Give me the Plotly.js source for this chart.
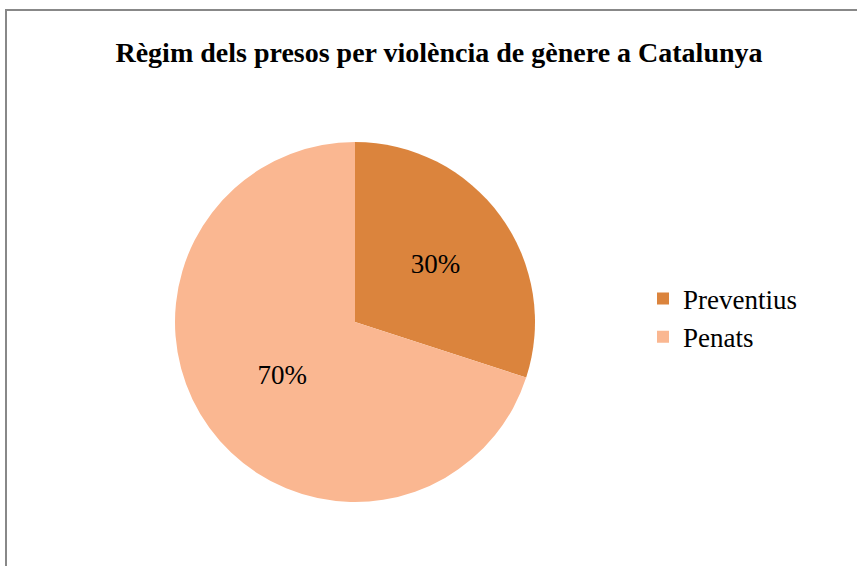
<!DOCTYPE html>
<html>
<head>
<meta charset="utf-8">
<script src="https://cdn.plot.ly/plotly-3.0.1.min.js"></script>
<style>html,body{margin:0;padding:0;background:#fff;}#chart{width:857px;height:566px;}</style>
</head>
<body>
<div id="chart"></div>
<script>
var chartTitle = "Règim dels presos per violència de gènere a Catalunya";
var categories = ["Preventius", "Penats"];
var shares = [30, 70];
var sliceColors = ["#DB843D", "#FAB791"];

var W = 857, H = 566;
var cx = 355, cy = 322, r = 180;

var trace = {
  type: "pie",
  labels: categories,
  values: shares,
  sort: false,
  direction: "clockwise",
  rotation: 0,
  marker: {colors: sliceColors, line: {width: 0}},
  textinfo: "percent",
  texttemplate: "%{percent:.0%}",
  textposition: "inside",
  insidetextorientation: "horizontal",
  textfont: {family: "Liberation Serif", size: 27, color: "#000"},
  hoverinfo: "label+percent",
  domain: {
    x: [(cx - r) / W, (cx + r) / W],
    y: [(H - cy - r) / H, (H - cy + r) / H]
  }
};

var layout = {
  width: W, height: H,
  margin: {l: 0, r: 0, t: 0, b: 0},
  paper_bgcolor: "#fff",
  title: {
    text: chartTitle,
    font: {family: "Liberation Serif", size: 28, color: "#000", weight: "bold"},
    x: 439 / W, xref: "container", xanchor: "center",
    y: (H - 52) / H, yref: "container", yanchor: "middle"
  },
  showlegend: true,
  legend: {
    x: 643 / W, xanchor: "left",
    y: (H - 318) / H, yanchor: "middle",
    font: {family: "Liberation Serif", size: 27, color: "#000"},
    bgcolor: "rgba(0,0,0,0)"
  },
  shapes: [
    {type: "line", xref: "paper", yref: "paper", x0: 5 / W, x1: 1, y0: 1 - 10 / H, y1: 1 - 10 / H, line: {color: "#888", width: 2}},
    {type: "line", xref: "paper", yref: "paper", x0: 6 / W, x1: 6 / W, y0: 0, y1: 1 - 10 / H, line: {color: "#888", width: 2}}
  ]
};

Plotly.newPlot("chart", [trace], layout, {displayModeBar: false, staticPlot: true});
</script>
</body>
</html>
